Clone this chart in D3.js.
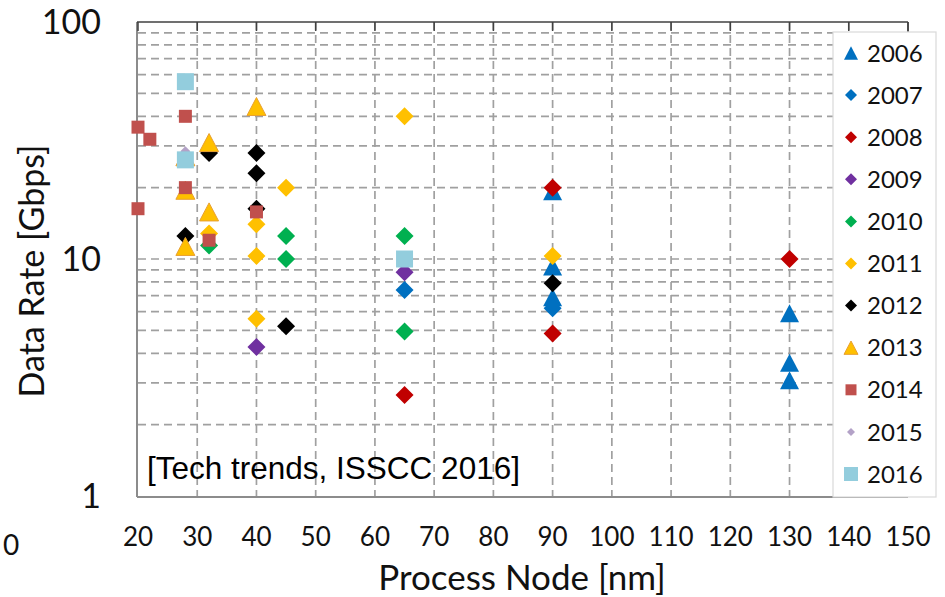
<!DOCTYPE html>
<html lang="en">
<head>
  <meta charset="UTF-8">
  <title>Data rate vs process node</title>
  <script src="https://d3js.org/d3.v7.min.js"></script>
  <style>
    body { margin: 0; background: #fff; }
    svg { display: block; }
  </style>
</head>
<body>
<svg id="chart" width="945" height="597"></svg>
<script>
  // series: [process node nm, data rate Gbps]
  const years = ["2006", "2007", "2008", "2009", "2010", "2011", "2012", "2013", "2014", "2015", "2016"];
  const shapes = ["triangle", "diamond", "diamond", "diamond", "diamond", "diamond", "diamond", "triangle", "square", "diamond", "square"];
  const colors = ["#0070C0", "#0070C0", "#C00000", "#7030A0", "#00B050", "#FFC000", "#000000", "#FFC000", "#C0504D", "#B3A2C7", "#93CDDD"];

  const d2006 = [[90, 19.3], [90, 9.3], [90, 6.9], [130, 5.9], [130, 3.65], [130, 3.08]];
  const d2007 = [[65, 7.4], [90, 6.2]];
  const d2008 = [[65, 2.67], [90, 20], [90, 4.85], [130, 10]];
  const d2009 = [[40, 4.25], [65, 8.8]];
  const d2010 = [[32, 11.4], [45, 12.5], [45, 10], [65, 12.5], [65, 4.95]];
  const d2011 = [[32, 12.8], [40, 14], [40, 10.3], [40, 5.6], [45, 20], [65, 40], [90, 10.3]];
  const d2012 = [[28, 12.5], [32, 28], [40, 28], [40, 23], [40, 16.3], [45, 5.2], [90, 7.9]];
  const d2013 = [[28, 27], [28, 19.5], [28, 11.3], [32, 31], [32, 15.8], [40, 44]];
  const d2014 = [[20, 36], [20, 16.3], [22, 32], [28, 40], [28, 20], [32, 12], [40, 15.8]];
  const d2015 = [[28, 28.5]];
  const d2016 = [[28, 56], [28, 26.2], [65, 10]];
  const seriesData = [d2006, d2007, d2008, d2009, d2010, d2011, d2012, d2013, d2014, d2015, d2016];

  const xTicks = [20, 30, 40, 50, 60, 70, 80, 90, 100, 110, 120, 130, 140, 150];
  const yTicks = [1, 10, 100];

  const svg = d3.select("#chart");
  const pLeft = 138, pRight = 908, pTop = 22, pBottom = 496;

  const x = d3.scaleLinear().domain([20, 150]).range([pLeft, pRight]);
  const y = d3.scaleLog().domain([1, 100]).range([pBottom, pTop]);

  // marker path, centred on 0,0
  function marker(type, s) {
    if (type === "triangle") {
      const h = s * 0.95;
      return `M0,${-h / 2}L${s / 2},${h / 2}L${-s / 2},${h / 2}Z`;
    }
    if (type === "diamond") {
      const r = s / 2;
      return `M0,${-r}L${r},0L0,${r}L${-r},0Z`;
    }
    return `M${-s / 2},${-s / 2}h${s}v${s}h${-s}Z`;
  }
  const plotSize = [19, 18, 18, 18, 18, 18, 18, 19, 13, 10, 17];
  const legendSize = [14, 12, 12, 12, 12, 12, 12, 14, 11, 8, 14];
  const strokes = [null, null, null, null, null, null, null, "#E8A030", null, null, null];

  // grid
  const grid = svg.append("g")
    .attr("stroke", "#a0a0a0")
    .attr("stroke-width", 1.7)
    .attr("stroke-dasharray", "8,5");

  grid.selectAll("line.h")
    .data(y.ticks().filter(v => v > 1 && v < 100))
    .join("line")
    .attr("class", "h")
    .attr("x1", pLeft).attr("x2", pRight)
    .attr("y1", d => y(d)).attr("y2", d => y(d));

  grid.selectAll("line.v")
    .data(xTicks.slice(1, -1))
    .join("line")
    .attr("class", "v")
    .attr("x1", d => x(d)).attr("x2", d => x(d))
    .attr("y1", pTop).attr("y2", pBottom);

  // frame
  svg.append("line")
    .attr("x1", pLeft - 1).attr("x2", pLeft - 1).attr("y1", pTop).attr("y2", pBottom + 1)
    .attr("stroke", "#8c8c8c").attr("stroke-width", 2);
  svg.append("line")
    .attr("x1", pLeft - 1).attr("x2", pRight).attr("y1", pBottom + 1).attr("y2", pBottom + 1)
    .attr("stroke", "#8c8c8c").attr("stroke-width", 2);
  svg.append("line")
    .attr("x1", pLeft - 1).attr("x2", pRight).attr("y1", pTop).attr("y2", pTop)
    .attr("stroke", "#404040").attr("stroke-width", 1.5);
  svg.append("line")
    .attr("x1", pRight).attr("x2", pRight).attr("y1", pTop).attr("y2", pBottom + 1)
    .attr("stroke", "#404040").attr("stroke-width", 1.5);
  svg.append("g")
    .selectAll("line")
    .data(xTicks)
    .join("line")
    .attr("x1", d => x(d)).attr("x2", d => x(d))
    .attr("y1", pTop).attr("y2", pTop + 9)
    .attr("stroke", "#404040").attr("stroke-width", 1.5);

  // points
  seriesData.forEach((data, i) => {
    svg.append("g")
      .selectAll("path")
      .data(data)
      .join("path")
      .attr("transform", d => `translate(${x(d[0])},${y(d[1])})`)
      .attr("d", marker(shapes[i], plotSize[i]))
      .attr("fill", colors[i])
      .attr("stroke", strokes[i] || "none")
      .attr("stroke-width", 1);
  });

  // annotation
  svg.append("text")
    .attr("x", 147).attr("y", 479)
    .attr("font-family", "Liberation Sans, Arial, sans-serif")
    .attr("font-size", 31.5)
    .attr("fill", "#000")
    .text("[Tech trends, ISSCC 2016]");

  // legend
  const legend = svg.append("g");
  legend.append("rect")
    .attr("x", 833).attr("y", 32).attr("width", 103).attr("height", 465)
    .attr("fill", "#fff").attr("stroke", "#d9d9d9").attr("stroke-width", 1.2);
  const item = legend.selectAll("g")
    .data(years)
    .join("g")
    .attr("transform", (d, i) => `translate(851,${53 + i * 42.1})`);
  item.append("path")
    .attr("d", (d, i) => marker(shapes[i], legendSize[i]))
    .attr("fill", (d, i) => colors[i])
    .attr("stroke", (d, i) => strokes[i] || "none");
  item.append("text")
    .attr("x", 16)
    .attr("dy", "0.36em")
    .attr("font-family", "Lato, sans-serif")
    .attr("font-size", 24)
    .attr("fill", "#111")
    .text(d => d);

  // tick labels
  const font = "Lato, sans-serif";
  svg.append("g")
    .selectAll("text")
    .data(xTicks)
    .join("text")
    .attr("x", d => x(d)).attr("y", 537).attr("dy", "0.36em")
    .attr("text-anchor", "middle")
    .attr("font-family", font).attr("font-size", 26).attr("fill", "#111")
    .text(d => d);

  svg.append("g")
    .selectAll("text")
    .data(yTicks)
    .join("text")
    .attr("x", 101).attr("y", d => y(d)).attr("dy", "0.36em")
    .attr("text-anchor", "end")
    .attr("font-family", font).attr("font-size", 34).attr("fill", "#111")
    .text(d => d);

  // axis titles
  svg.append("text")
    .attr("x", 522).attr("y", 577).attr("dy", "0.36em")
    .attr("text-anchor", "middle")
    .attr("font-family", font).attr("font-size", 35).attr("fill", "#111")
    .text("Process Node [nm]");

  svg.append("text")
    .attr("transform", "translate(32,271) rotate(-90)")
    .attr("dy", "0.36em")
    .attr("text-anchor", "middle")
    .attr("font-family", font).attr("font-size", 34).attr("fill", "#111")
    .text("Data Rate [Gbps]");

  // clipped label from the neighbouring chart
  svg.append("text")
    .attr("x", 11).attr("y", 545).attr("dy", "0.36em")
    .attr("text-anchor", "middle")
    .attr("font-family", font).attr("font-size", 28).attr("fill", "#111")
    .text("0");
</script>
</body>
</html>
